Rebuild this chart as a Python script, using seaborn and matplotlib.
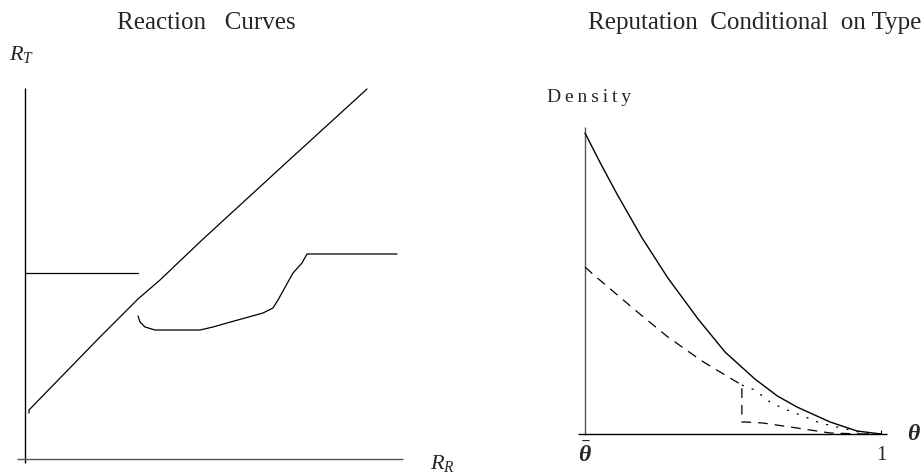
import matplotlib
matplotlib.use("Agg")
import matplotlib.pyplot as plt
import seaborn as sns
import pandas as pd

# ---------------- data ----------------
# Left panel: reaction curves (R_R on x, R_T on y)
flat_left_x = [0.00, 1.13]
flat_left_y = [1.86, 1.86]

diag_x = [0.04, 0.04, 0.75, 1.13, 1.35, 1.77, 2.62, 3.42]
diag_y = [0.46, 0.49, 1.22, 1.60, 1.79, 2.19, 2.97, 3.70]

lower_x = [1.13, 1.15, 1.20, 1.30, 1.75, 1.88, 2.02, 2.38, 2.48, 2.53, 2.68, 2.77, 2.82, 3.72]
lower_y = [1.43, 1.37, 1.32, 1.29, 1.29, 1.32, 1.36, 1.46, 1.51, 1.59, 1.86, 1.96, 2.05, 2.05]

# Right panel: densities conditional on type
theta_solid = [0.0, 0.05, 0.108, 0.193, 0.280, 0.382, 0.473, 0.574, 0.650, 0.716, 0.828, 0.919, 1.0]
dens_solid = [3.01, 2.72, 2.40, 1.96, 1.56, 1.15, 0.82, 0.55, 0.38, 0.27, 0.12, 0.03, 0.0]

theta_dash = [0.0, 0.03, 0.169, 0.280, 0.395, 0.490, 0.530, 0.530, 0.541, 0.601, 0.716, 0.828, 0.939, 1.0]
dens_dash = [1.67, 1.59, 1.24, 0.97, 0.73, 0.56, 0.49, 0.12, 0.12, 0.11, 0.06, 0.01, 0.0, 0.0]

theta_dot = [0.530, 0.574, 0.625, 0.666, 0.753, 0.794, 0.838, 0.895, 0.939, 1.0]
dens_dot = [0.49, 0.44, 0.32, 0.26, 0.16, 0.11, 0.08, 0.04, 0.01, 0.0]

tick_labels = ["1"]

# ---------------- style ----------------
sns.set_theme(style="white")
plt.rcParams["font.family"] = ["Liberation Serif", "DejaVu Serif"]
plt.rcParams["mathtext.fontset"] = "custom"
plt.rcParams["mathtext.it"] = "Liberation Serif:italic"
plt.rcParams["mathtext.rm"] = "Liberation Serif"
plt.rcParams["mathtext.bf"] = "Liberation Serif:bold:italic"
plt.rcParams["lines.scale_dashes"] = False

W, H = 922, 472
fig = plt.figure(figsize=(W / 100, H / 100), dpi=100)

# left axes spans pixels 0..461 horizontally, full height
axL = fig.add_axes([0, 0, 461 / W, 1])
axL.set_xlim((0 - 25) / 100, (461 - 25) / 100)
axL.set_ylim((459 - 472) / 100, (459 - 0) / 100)
axL.axis("off")

axR = fig.add_axes([461 / W, 0, (W - 461) / W, 1])
axR.set_xlim((461 - 585) / 296, (W - 585) / 296)
axR.set_ylim((434 - 472) / 100, (434 - 0) / 100)
axR.axis("off")

# ---- left axis lines
axL.vlines(0, -0.04, 3.71, color="black", lw=1.0)
axL.hlines(0, -0.08, 3.78, color="#555555", lw=1.0)

lw = 0.9
sns.lineplot(x=flat_left_x, y=flat_left_y, sort=False, estimator=None, ax=axL, color="black", lw=lw)
sns.lineplot(x=diag_x, y=diag_y, sort=False, estimator=None, ax=axL, color="black", lw=lw)
sns.lineplot(x=lower_x, y=lower_y, sort=False, estimator=None, ax=axL, color="black", lw=lw)

axL.text(1.815, 4.36, "Reaction   Curves", ha="center", va="center", fontsize=18)
axL.text(-0.16, 4.04, r"$R_T$", ha="left", va="center", fontsize=16)
axL.text(4.05, -0.04, r"$R_R$", ha="left", va="center", fontsize=16)

# ---- right axis lines
axR.vlines(0, -0.01, 3.07, color="#555555", lw=1.0)
axR.hlines(0, -0.024, 1.02, color="black", lw=1.0)
axR.vlines(1.0, 0, 0.04, color="black", lw=0.8)

sns.lineplot(x=theta_solid, y=dens_solid, sort=False, estimator=None, ax=axR, color="black", lw=1.0)
sns.lineplot(x=theta_dash, y=dens_dash, sort=False, estimator=None, ax=axR, color="black", lw=0.9,
             linestyle=(0, (7.0, 5.0)))
sns.lineplot(x=theta_dot, y=dens_dot, sort=False, estimator=None, ax=axR, color="black", lw=0.9,
             linestyle=(0, (1.5, 6.0)))

axR.text(0.574, 4.11, "Reputation  Conditional  on Type", ha="center", va="center", fontsize=18)
axR.text(-0.13, 3.36, "D\u2009e\u2009n\u2009s\u2009i\u2009t\u2009y", ha="left", va="center", fontsize=14)
axR.text(1.0, -0.21, tick_labels[0], ha="center", va="center", fontsize=15)
axR.text(1.11, -0.01, r"$\mathbf{\theta}$", ha="center", va="center", fontsize=17)
axR.text(0.0, -0.21, r"$\mathbf{\bar{\theta}}$", ha="center", va="center", fontsize=17)

fig.savefig("out.png", dpi=100)
